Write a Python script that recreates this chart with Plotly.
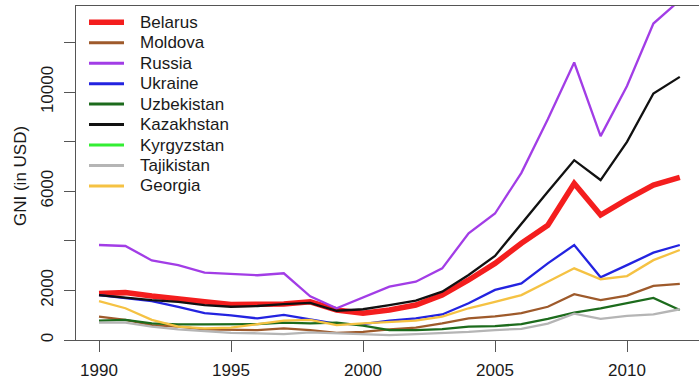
import plotly.graph_objects as go

years = [1990, 1991, 1992, 1993, 1994, 1995, 1996, 1997, 1998, 1999, 2000, 2001,
         2002, 2003, 2004, 2005, 2006, 2007, 2008, 2009, 2010, 2011, 2012]

belarus = [1880, 1910, 1770, 1680, 1540, 1430, 1450, 1450, 1540, 1210, 1080, 1210,
           1410, 1810, 2420, 3090, 3900, 4630, 6310, 5040, 5670, 6250, 6560]
moldova = [940, 810, 600, 540, 430, 430, 400, 470, 400, 290, 330, 430,
           500, 670, 870, 950, 1080, 1340, 1850, 1610, 1790, 2180, 2260]
russia = [3830, 3790, 3210, 3020, 2720, 2680, 2610, 2690, 1760, 1280, 1730, 2150,
          2350, 2890, 4300, 5100, 6740, 8900, 11190, 8220, 10240, 12760, 13700]
ukraine = [1810, 1680, 1570, 1340, 1080, 990, 870, 1010, 830, 650, 640, 780,
           870, 1030, 1480, 2020, 2280, 3090, 3830, 2530, 3020, 3520, 3830]
uzbekistan = [780, 810, 670, 630, 630, 630, 640, 700, 670, 700, 580, 400,
              400, 440, 540, 560, 640, 850, 1100, 1280, 1500, 1700, 1210]
kazakhstan = [1810, 1700, 1610, 1540, 1410, 1340, 1370, 1450, 1500, 1180, 1240, 1410,
              1590, 1950, 2620, 3390, 4700, 5980, 7250, 6450, 7990, 9940, 10610]
kyrgyzstan = [None] * len(years)
tajikistan = [700, 700, 540, 430, 360, 290, 270, 240, 310, 270, 240, 200,
              240, 270, 330, 400, 450, 660, 1060, 850, 970, 1030, 1240]
georgia = [1570, 1280, 810, 540, 470, 500, 640, 780, 810, 600, 670, 740,
           780, 940, 1280, 1540, 1810, 2350, 2890, 2450, 2580, 3220, 3630]

countries = ["Belarus", "Moldova", "Russia", "Ukraine", "Uzbekistan",
             "Kazakhstan", "Kyrgyzstan", "Tajikistan", "Georgia"]
series = [belarus, moldova, russia, ukraine, uzbekistan,
          kazakhstan, kyrgyzstan, tajikistan, georgia]
colors = ["#F41E1E", "#9E5A2B", "#A23DE6", "#2323E0", "#1C6B1C",
          "#111111", "#33EE33", "#B5B5B5", "#F5C243"]
widths = [5.5, 2.3, 2.3, 2.3, 2.3, 2.3, 2.3, 2.3, 2.3]

yticks = [0, 2000, 4000, 6000, 8000, 10000, 12000]
ytick_labels = ["0", "2000", "", "6000", "", "10000", ""]
xticks = [1990, 1995, 2000, 2005, 2010]

W, H = 699, 380
L, R, T, B = 76, 0, 6, 40
PW, PH = W - L - R, H - T - B


def px(x):
    return (x - L) / PW


def py(y):
    return (H - B - y) / PH


FONT = "Liberation Sans, Arial, sans-serif"
fig = go.Figure()
for name, vals, col, w in zip(countries, series, colors, widths):
    if all(v is None for v in vals):
        continue
    fig.add_trace(go.Scatter(x=years, y=vals, mode="lines", name=name,
                             line=dict(color=col, width=w), showlegend=False))

# manual legend (R style, no box)
row0, step = 22.3, 20.45
for i, (name, col, w) in enumerate(zip(countries, colors, widths)):
    yy = py(row0 + i * step)
    fig.add_shape(type="line", xref="paper", yref="paper",
                  x0=px(89), x1=px(124), y0=yy, y1=yy,
                  line=dict(color=col, width=w if i == 0 else 3))
    fig.add_annotation(x=px(138), y=yy, xref="paper", yref="paper",
                       text=name, showarrow=False, xanchor="left", yanchor="middle",
                       font=dict(family=FONT, size=17, color="#1a1a1a"))

fig.add_annotation(x=px(20), y=py(176), xref="paper", yref="paper",
                   text="GNI (in USD)", textangle=-90, showarrow=False,
                   xanchor="center", yanchor="middle",
                   font=dict(family=FONT, size=17, color="#1a1a1a"))

fig.update_layout(
    width=W, height=H,
    margin=dict(l=L, r=R, t=T, b=B),
    paper_bgcolor="white", plot_bgcolor="white",
    showlegend=False,
    font=dict(family=FONT, size=17, color="#1a1a1a"),
    xaxis=dict(range=[1990 - 23 / 26.4, 1990 + 600 / 26.4],
               tickvals=xticks, ticks="outside", ticklen=11, tickwidth=1.3,
               tickcolor="#555", showgrid=False, zeroline=False,
               showline=True, linecolor="#555", linewidth=1.3, mirror=True,
               ticklabelstandoff=3,
               tickfont=dict(family=FONT, size=17, color="#1a1a1a")),
    yaxis=dict(range=[0, 334 / 24.8 * 1000],
               tickvals=yticks, ticktext=ytick_labels, tickangle=-90,
               ticks="outside", ticklen=11, tickwidth=1.3, tickcolor="#555",
               showgrid=False, zeroline=False,
               showline=True, linecolor="#555", linewidth=1.3,
               ticklabelstandoff=4,
               tickfont=dict(family=FONT, size=17, color="#1a1a1a")),
)

fig.write_html("out.html", config={"displayModeBar": False},
               post_script="document.body.style.margin='0';document.body.style.padding='0';")
